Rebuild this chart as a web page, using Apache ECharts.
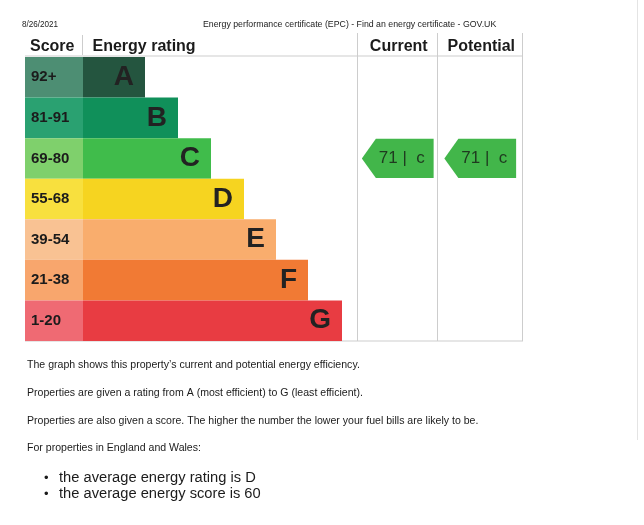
<!DOCTYPE html>
<html>
<head>
<meta charset="utf-8">
<script src="https://cdn.jsdelivr.net/npm/echarts@6/dist/echarts.min.js"></script>
<style>
html,body{margin:0;padding:0;background:#fff;}
#chart{width:644px;height:525px;}
</style>
</head>
<body>
<div id="chart"></div>
<script>
// ---- data ----
const bands = ['A', 'B', 'C', 'D', 'E', 'F', 'G'];
const scoreRanges = ['92+', '81-91', '69-80', '55-68', '39-54', '21-38', '1-20'];
const bandLengths = [62, 95, 128, 161, 193, 225, 259];
const columns = ['Current', 'Potential'];
const currentScore = 71;
const currentBand = 'C';
const potentialScore = 71;
const potentialBand = 'C';
const pageDate = '8/26/2021';
const pageTitle = 'Energy performance certificate (EPC) - Find an energy certificate - GOV.UK';
const notes = [
  'The graph shows this property\u2019s current and potential energy efficiency.',
  'Properties are given a rating from A (most efficient) to G (least efficient).',
  'Properties are also given a score. The higher the number the lower your fuel bills are likely to be.',
  'For properties in England and Wales:'
];
const bullets = ['the average energy rating is D', 'the average energy score is 60'];

// ---- styles ----
const bandColors = ['#24553f', '#10905a', '#40bc4b', '#f6d420', '#f9ad6d', '#f17a34', '#e83c42'];
const scoreColors = ['#4d8e73', '#2aa171', '#7fd06c', '#f8e03e', '#f9c293', '#f8a66d', '#ef6a73'];
const arrowColor = '#42b64a';
const FONT = '"Liberation Sans", Arial, sans-serif';
const lineColor = '#cdcdcd';

const records = [
  { col: 0, band: currentBand, score: currentScore },
  { col: 1, band: potentialBand, score: potentialScore }
];

const chart = echarts.init(document.getElementById('chart'), null, { renderer: 'canvas' });

function vline(x, y1, y2) {
  return { type: 'line', shape: { x1: x, y1: y1, x2: x, y2: y2 }, style: { stroke: lineColor, lineWidth: 1 }, silent: true };
}
function hline(y, x1, x2) {
  return { type: 'line', shape: { x1: x1, y1: y, x2: x2, y2: y }, style: { stroke: lineColor, lineWidth: 1 }, silent: true };
}
function txt(x, y, text, font, sx) {
  return { type: 'text', x: x, y: y, scaleX: sx || 1, silent: true,
    style: { text: text, font: font, fill: '#1b1b1b', verticalAlign: 'middle', align: 'left' } };
}

const graphics = [
  vline(82.5, 35, 55), vline(357.5, 33, 341), vline(437.5, 33, 341), vline(522.5, 33, 341),
  hline(56, 25, 522), hline(341, 25, 523),
  { type: 'line', shape: { x1: 637.5, y1: 0, x2: 637.5, y2: 440 }, style: { stroke: '#e4e4e4', lineWidth: 1 }, silent: true },
  txt(22, 25, pageDate, '9px ' + FONT, 0.9),
  txt(203, 25, pageTitle, '9px ' + FONT, 0.975),
  txt(30, 47, 'Score', 'bold 16px ' + FONT),
  txt(92.5, 47, 'Energy rating', 'bold 16px ' + FONT)
];
const noteY = [365, 393, 421, 448];
notes.forEach(function (t, i) { graphics.push(txt(27, noteY[i], t, '11px ' + FONT, 0.96)); });
const bulletY = [478, 494];
bullets.forEach(function (t, i) {
  graphics.push(txt(44, bulletY[i], '\u2022', '13px ' + FONT));
  graphics.push(txt(59, bulletY[i], t, '14.7px ' + FONT));
});

const option = {
  animation: false,
  backgroundColor: '#ffffff',
  grid: [
    { left: 25, top: 57, width: 58, height: 284 },
    { left: 83, top: 57, width: 275, height: 284 },
    { left: 357.5, top: 57, width: 165, height: 284 }
  ],
  xAxis: [
    { gridIndex: 0, type: 'value', min: 0, max: 1, show: false },
    { gridIndex: 1, type: 'value', min: 0, max: 275, show: false },
    { gridIndex: 2, type: 'category', data: columns, position: 'top',
      axisLine: { show: false }, axisTick: { show: false }, splitLine: { show: false },
      axisLabel: { interval: 0, hideOverlap: false, margin: 10, verticalAlign: 'middle', fontSize: 16, fontWeight: 'bold', color: '#1b1b1b', fontFamily: FONT } }
  ],
  yAxis: [
    { gridIndex: 0, type: 'category', data: bands, inverse: true, show: false },
    { gridIndex: 1, type: 'category', data: bands, inverse: true, show: false },
    { gridIndex: 2, type: 'category', data: bands, inverse: true, show: false }
  ],
  series: [
    {
      type: 'bar', name: 'Score', xAxisIndex: 0, yAxisIndex: 0, barCategoryGap: '0%',
      data: scoreRanges.map(function (s, i) { return { value: 1, itemStyle: { color: scoreColors[i] } }; }),
      label: { show: true, position: 'insideLeft', distance: 6, fontSize: 15, fontWeight: 'bold', color: '#1b1b1b', fontFamily: FONT,
        formatter: function (p) { return scoreRanges[p.dataIndex]; } }
    },
    {
      type: 'bar', name: 'Energy rating', xAxisIndex: 1, yAxisIndex: 1, barCategoryGap: '0%',
      data: bandLengths.map(function (v, i) { return { value: v, itemStyle: { color: bandColors[i] } }; }),
      label: { show: true, position: 'insideRight', distance: 11, fontSize: 28, fontWeight: 'bold', color: '#222222', fontFamily: FONT,
        formatter: function (p) { return bands[p.dataIndex]; } }
    },
    {
      type: 'custom', name: 'Rating', xAxisIndex: 2, yAxisIndex: 2,
      data: records.map(function (r) { return [r.col, bands.indexOf(r.band), r.score]; }),
      encode: { x: 0, y: 1 },
      renderItem: function (params, api) {
        const r = records[params.dataIndex];
        const c = api.coord([api.value(0), api.value(1)]);
        const s = api.size([1, 1]);
        const w = s[0] * 0.87, h = s[1] * 0.97, notch = 14;
        const x0 = c[0] - w / 2 - 1, x1 = c[0] + w / 2 - 1, y0 = c[1] - h / 2, y1 = c[1] + h / 2;
        return {
          type: 'group',
          children: [
            { type: 'polygon', shape: { points: [[x0, c[1]], [x0 + notch, y0], [x1, y0], [x1, y1], [x0 + notch, y1]] },
              style: { fill: arrowColor } },
            { type: 'text', x: c[0] + 3, y: c[1],
              style: { text: r.score + ' |  ' + r.band.toLowerCase(), font: '17px ' + FONT, fill: '#1f3a1f', align: 'center', verticalAlign: 'middle' } }
          ]
        };
      }
    }
  ],
  graphic: graphics
};
chart.setOption(option);
</script>
</body>
</html>
